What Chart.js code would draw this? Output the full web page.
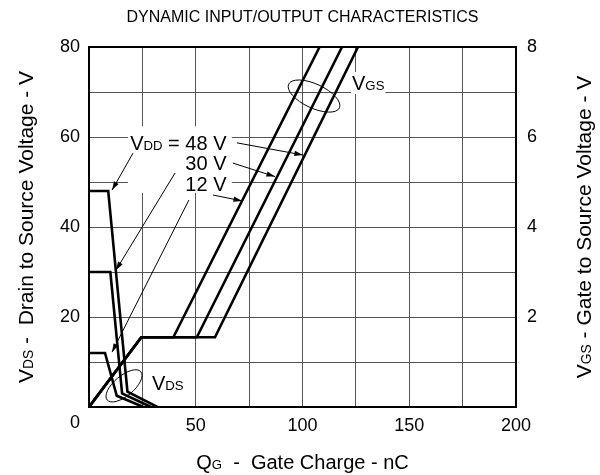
<!DOCTYPE html>
<html>
<head>
<meta charset="utf-8">
<script src="https://cdn.jsdelivr.net/npm/chart.js@4/dist/chart.umd.min.js"></script>
<style>
  html, body { margin: 0; padding: 0; background: #fff; }
  #wrap { width: 600px; height: 475px; }
</style>
</head>
<body>
<div id="wrap"><canvas id="chart" width="600" height="475"></canvas></div>
<script>
// gate charge (nC) and V_DS (V) for each supply voltage
const qVds12 = [0, 7.5, 13, 25.5];
const vds12 = [12, 12, 2.5, 0];
const qVds30 = [0, 10, 15.5, 29];
const vds30 = [30, 30, 3, 0];
const qVds48 = [0, 9, 18, 32];
const vds48 = [48, 48, 3.4, 0];

// gate charge (nC) and V_GS (V)
const qVgs12 = [0, 24.5, 39.5, 108];
const vgs12 = [0, 1.55, 1.55, 8];
const qVgs30 = [0, 24.5, 50.5, 118.5];
const vgs30 = [0, 1.55, 1.55, 8];
const qVgs48 = [0, 24.5, 59, 126];
const vgs48 = [0, 1.55, 1.55, 8];

const xTicks = [50, 100, 150, 200];
const vdsTicks = [20, 40, 60, 80];
const vgsTicks = [2, 4, 6, 8];

const FONT = "'Liberation Sans', Arial, sans-serif";

function pts(xs, ys) {
  return xs.map((q, i) => ({ x: q, y: ys[i] }));
}

function curve(xs, ys, axis) {
  return {
    data: pts(xs, ys),
    yAxisID: axis,
    showLine: true,
    borderColor: '#000',
    borderWidth: 2.6,
    pointRadius: 0,
    fill: false,
    tension: 0
  };
}

// text with subscripts: parts = [[text, isSub], ...]
function richWidth(ctx, parts, size) {
  let w = 0;
  parts.forEach(([t, sub]) => {
    ctx.font = (sub ? size * 0.66 : size) + 'px ' + FONT;
    w += ctx.measureText(t).width;
  });
  return w;
}

function drawRich(ctx, parts, x, y, size, align) {
  const w = richWidth(ctx, parts, size);
  let cx = align === 'center' ? x - w / 2 : align === 'right' ? x - w : x;
  ctx.textBaseline = 'alphabetic';
  ctx.textAlign = 'left';
  ctx.fillStyle = '#000';
  parts.forEach(([t, sub]) => {
    ctx.font = (sub ? size * 0.66 : size) + 'px ' + FONT;
    ctx.fillText(t, cx, y);
    cx += ctx.measureText(t).width;
  });
  return w;
}

function arrow(ctx, x1, y1, x2, y2, head) {
  ctx.beginPath();
  ctx.moveTo(x1, y1);
  ctx.lineTo(x2, y2);
  ctx.lineWidth = 1;
  ctx.strokeStyle = '#000';
  ctx.stroke();
  if (head) {
    const a = Math.atan2(y2 - y1, x2 - x1);
    ctx.beginPath();
    ctx.moveTo(x2, y2);
    ctx.lineTo(x2 - 9 * Math.cos(a - 0.3), y2 - 9 * Math.sin(a - 0.3));
    ctx.lineTo(x2 - 9 * Math.cos(a + 0.3), y2 - 9 * Math.sin(a + 0.3));
    ctx.closePath();
    ctx.fillStyle = '#000';
    ctx.fill();
  }
}

const notes = {
  id: 'notes',
  afterDatasetsDraw(chart) {
    const { ctx, chartArea: ca, scales: { x, y } } = chart;
    const px = q => x.getPixelForValue(q);
    const py = v => y.getPixelForValue(v);
    ctx.save();

    // frame
    ctx.strokeStyle = '#000';
    ctx.lineWidth = 2;
    ctx.strokeRect(ca.left, ca.top, ca.right - ca.left, ca.bottom - ca.top);

    // white box behind V_DD labels
    ctx.fillStyle = '#fff';
    ctx.fillRect(px(18.3), py(62.4), px(66.9) - px(18.3), py(47.6) - py(62.4));

    const fs = 20;
    drawRich(ctx, [['V', 0], ['DD', 1], [' = 48 V', 0]], px(64.4), py(58.7) + 7, fs, 'right');
    drawRich(ctx, [['30 V', 0]], px(64.4), py(54.2) + 7, fs, 'right');
    drawRich(ctx, [['12 V', 0]], px(64.4), py(49.6) + 7, fs, 'right');

    // arrows to V_GS curves
    arrow(ctx, px(69.3), py(58.7), px(100.2), py(56.0), true);
    arrow(ctx, px(67.4), py(54.2), px(87.1), py(51.2), true);
    arrow(ctx, px(58.1), py(47.1), px(71.7), py(45.8), true);

    // leaders to V_DS curves
    arrow(ctx, px(20.6), py(56.4), px(10.8), py(48.2), true);
    arrow(ctx, px(40.3), py(52.0), px(12.6), py(30.4), true);
    arrow(ctx, px(46.8), py(46.0), px(10.8), py(12.2), true);

    // V_GS group
    ctx.beginPath();
    ctx.ellipse(px(105.4), py(69.1), 28, 12, 25 * Math.PI / 180, 0, 2 * Math.PI);
    ctx.lineWidth = 1;
    ctx.strokeStyle = '#000';
    ctx.stroke();
    const wg = richWidth(ctx, [['V', 0], ['GS', 1]], fs);
    ctx.fillStyle = '#fff';
    ctx.fillRect(px(123.2) - 1, py(72) - 11, wg + 2, 22);
    drawRich(ctx, [['V', 0], ['GS', 1]], px(123.2), py(72) + 7, fs, 'left');

    // V_DS group
    ctx.beginPath();
    ctx.ellipse(px(16.4), py(4.7), 22, 10, -40 * Math.PI / 180, 0, 2 * Math.PI);
    ctx.stroke();
    drawRich(ctx, [['V', 0], ['DS', 1]], px(29.5), py(5.3) + 7, fs, 'left');

    ctx.restore();
  },
  afterDraw(chart) {
    const { ctx, chartArea: ca, scales: { x } } = chart;
    ctx.save();
    // main title
    ctx.font = '16px ' + FONT;
    ctx.fillStyle = '#000';
    ctx.textAlign = 'center';
    ctx.textBaseline = 'middle';
    ctx.fillText('DYNAMIC INPUT/OUTPUT CHARACTERISTICS', (ca.left + ca.right) / 2, 18);

    // corner zero
    ctx.font = '18px ' + FONT;
    ctx.fillText('0', x.getPixelForValue(0) - 14, ca.bottom + 16);

    // x title
    drawRich(ctx, [['Q', 0], ['G', 1], ['  -  Gate Charge - nC', 0]], (ca.left + ca.right) / 2, 469, 20, 'center');

    // left title
    ctx.save();
    ctx.translate(33, (ca.top + ca.bottom) / 2);
    ctx.rotate(-Math.PI / 2);
    drawRich(ctx, [['V', 0], ['DS', 1], [' -  Drain to Source Voltage - V', 0]], 0, 0, 21, 'center');
    ctx.restore();

    // right title
    ctx.save();
    ctx.translate(591, (ca.top + ca.bottom) / 2);
    ctx.rotate(-Math.PI / 2);
    drawRich(ctx, [['V', 0], ['GS', 1], [' - Gate to Source Voltage - V', 0]], 0, 0, 21, 'center');
    ctx.restore();

    ctx.restore();
  }
};

new Chart(document.getElementById('chart').getContext('2d'), {
  type: 'scatter',
  data: {
    datasets: [
      curve(qVds12, vds12, 'y'),
      curve(qVds30, vds30, 'y'),
      curve(qVds48, vds48, 'y'),
      curve(qVgs12, vgs12, 'y2'),
      curve(qVgs30, vgs30, 'y2'),
      curve(qVgs48, vgs48, 'y2')
    ]
  },
  options: {
    responsive: false,
    animation: false,
    layout: { padding: { top: 47 } },
    plugins: { legend: { display: false }, tooltip: { enabled: false } },
    scales: {
      x: {
        type: 'linear', min: 0, max: 200,
        ticks: {
          stepSize: 25, padding: 8, color: '#000',
          font: { family: FONT, size: 18 },
          maxRotation: 0,
          callback: v => xTicks.includes(v) ? String(v) : ''
        },
        grid: { color: '#555', lineWidth: 1, drawTicks: false },
        border: { display: true, color: '#000', width: 2 },
        afterFit: s => { s.height = 68; }
      },
      y: {
        position: 'left', min: 0, max: 80,
        ticks: {
          stepSize: 10, padding: 9, color: '#000',
          font: { family: FONT, size: 18 },
          callback: v => vdsTicks.includes(v) ? String(v) : ''
        },
        grid: { color: '#555', lineWidth: 1, drawTicks: false },
        border: { display: true, color: '#000', width: 2 },
        afterFit: s => { s.width = 89; }
      },
      y2: {
        position: 'right', min: 0, max: 8,
        ticks: {
          stepSize: 1, padding: 11, color: '#000',
          font: { family: FONT, size: 18 },
          callback: v => vgsTicks.includes(v) ? String(v) : ''
        },
        grid: { display: false, drawTicks: false },
        border: { display: true, color: '#000', width: 2 },
        afterFit: s => { s.width = 84; }
      }
    }
  },
  plugins: [notes]
});
</script>
</body>
</html>
